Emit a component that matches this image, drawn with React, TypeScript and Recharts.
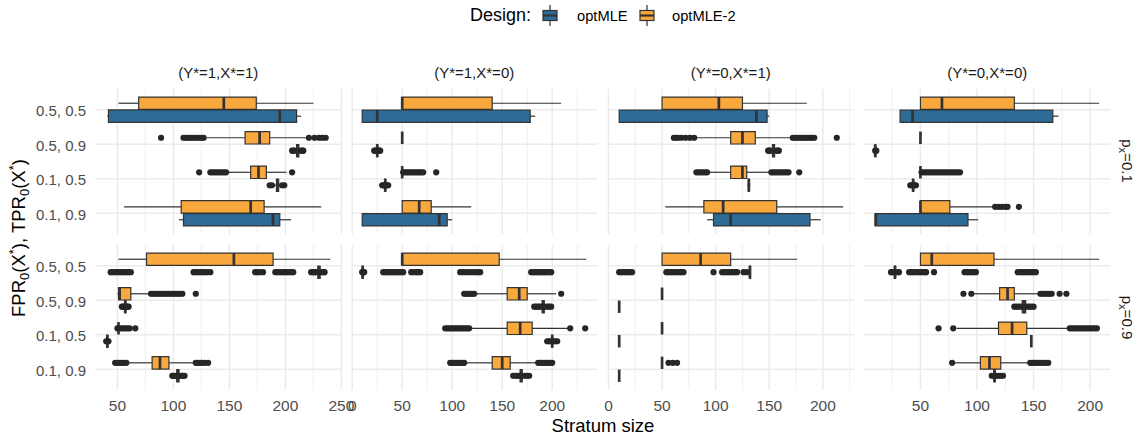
import React from "react";
import { ComposedChart, XAxis, YAxis, CartesianGrid, ReferenceArea, ReferenceLine, Scatter } from "recharts";

const categories = ["0.5, 0.5", "0.5, 0.9", "0.1, 0.5", "0.1, 0.9"];
const designs = ["optMLE", "optMLE-2"];
const columnLabels = ["(Y*=1,X*=1)", "(Y*=1,X*=0)", "(Y*=0,X*=1)", "(Y*=0,X*=0)"];
const rowLabels = ["0.1", "0.9"];
const columnTicks = [
  [50, 100, 150, 200, 250],
  [0, 50, 100, 150, 200],
  [0, 50, 100, 150, 200],
  [50, 100, 150, 200],
];

// box stats per FPR,TPR row: [lower whisker, q1, median, q3, upper whisker]
// p_x = 0.1
const px01_y1x1_mle = [[41, 42, 195, 210, 214], [209, 210, 211, 212, 213], [190, 192, 193, 194, 195], [105, 109, 189, 195, 205]];
const px01_y1x1_mle_out = [[], [206, 207, 208, 214, 215, 216], [186, 188, 197, 199], []];
const px01_y1x1_mle2 = [[51, 69, 145, 174, 225], [130, 164, 177, 186, 219], [149, 169, 176, 183, 201], [56, 107, 169, 181, 232]];
const px01_y1x1_mle2_out = [[], [89, 109, 111, 113, 115, 117, 119, 121, 123, 125, 127, 221, 226, 230, 233, 236], [123, 133, 135, 137, 139, 141, 143, 145, 147, 206], []];

const px01_y1x0_mle = [[10, 10, 25, 178, 183], [24, 24.5, 25, 25.5, 26], [32, 32.5, 33, 33.5, 34], [10, 10, 87, 95, 100]];
const px01_y1x0_mle_out = [[], [22, 23, 24, 26, 27, 28], [30, 31, 32, 34, 35, 36], []];
const px01_y1x0_mle2 = [[50, 50, 50, 140, 209], [50, 50, 50, 50, 50], [50, 50, 50, 50, 50], [50, 50, 67, 79, 119]];
const px01_y1x0_mle2_out = [[], [], [51, 53, 55, 57, 59, 61, 63, 65, 67, 69, 71, 84], []];

const px01_y0x1_mle = [[10, 10, 138, 148, 150], [152, 153, 154, 155, 156], [129.5, 130.5, 131, 131.5, 132.5], [92, 98, 114, 188, 198]];
const px01_y0x1_mle_out = [[], [149, 150, 151, 157, 158, 159], [], []];
const px01_y0x1_mle2 = [[50, 50, 103, 125, 185], [81, 114, 125, 137, 170], [93, 114, 125, 129, 150], [53, 89, 107, 157, 219]];
const px01_y0x1_mle2_out = [
  [],
  [61, 63, 65, 68, 72, 76, 80, 172, 174, 176, 178, 180, 182, 184, 186, 188, 190, 192, 213],
  [82, 84, 86, 88, 90, 92, 152, 154, 156, 158, 160, 162, 164, 166, 168, 178],
  [],
];

const px01_y0x0_mle = [[32, 32, 43, 167, 172], [10, 10, 10, 10.5, 11], [42, 43, 43.5, 44, 45], [10, 10, 10.5, 92, 101]];
const px01_y0x0_mle_out = [[], [10, 11], [41, 42, 45, 46], []];
const px01_y0x0_mle2 = [[50, 50, 69, 133, 208], [50, 50, 50, 50, 50], [50, 50, 50, 50, 50], [50, 50, 50, 76, 114]];
const px01_y0x0_mle2_out = [[], [], [51, 53, 55, 57, 59, 61, 63, 65, 67, 69, 71, 73, 75, 77, 79, 81, 83, 85], [116, 119, 122, 125, 127, 137]];

// p_x = 0.9
const px09_y1x1_mle = [[228, 229, 230, 231, 232], [56, 56.5, 57, 57.5, 58], [40, 40.5, 41, 41.5, 42], [102, 103, 104, 105, 106]];
const px09_y1x1_mle_out = [
  [44, 46, 48, 50, 52, 54, 56, 58, 60, 62, 118, 120, 122, 124, 126, 128, 130, 133, 173, 175, 177, 180, 191, 193, 195, 197, 199, 201, 203, 205, 207, 223, 225, 226, 228, 232, 234, 235],
  [54, 55, 56, 58, 59, 60],
  [40, 41, 42],
  [99, 100, 101, 103, 105, 107, 108, 109, 110],
];
const px09_y1x1_mle2 = [[51, 76, 154, 189, 240], [50, 51, 52, 62, 78], [51, 51, 51, 51, 51], [60, 81, 88, 96, 118]];
const px09_y1x1_mle2_out = [
  [],
  [80, 82, 84, 86, 88, 90, 92, 94, 96, 98, 100, 102, 104, 106, 108, 120],
  [50, 53, 55, 57, 59, 61, 66],
  [48, 50, 52, 54, 56, 58, 120, 122, 124, 126, 128, 131],
];

const px09_y1x0_mle = [[10, 10, 10.5, 11, 11.5], [189, 190, 191, 192, 193], [199, 199.5, 200, 200.5, 201], [167, 168, 169, 170, 171]];
const px09_y1x0_mle_out = [
  [10, 11, 12, 31, 33, 35, 37, 39, 41, 43, 45, 47, 49, 51, 59, 61, 64, 66, 68, 108, 111, 114, 117, 120, 123, 126, 128, 179, 181, 183, 185, 187, 189, 191, 193, 195, 197, 199],
  [182, 184, 186, 188, 190, 192, 195, 197, 199],
  [195, 197, 199, 201, 203, 205],
  [161, 163, 165, 167, 170, 173, 175, 177],
];
const px09_y1x0_mle2 = [[50, 50, 50, 147, 234], [124, 155, 167, 175, 204], [119, 155, 168, 180, 216], [114, 140, 150, 158, 184]];
const px09_y1x0_mle2_out = [
  [],
  [112, 114, 116, 118, 120, 122, 209],
  [93, 95, 97, 99, 101, 103, 105, 107, 109, 111, 113, 115, 117, 218, 233],
  [98, 100, 102, 104, 106, 108, 110, 112, 186, 188, 190, 192, 194, 196, 198, 200],
];

const px09_y0x1_mle = [[131, 131.5, 132, 132.5, 133], [10, 10, 10, 10, 10], [10, 10, 10, 10, 10], [10, 10, 10, 10, 10]];
const px09_y0x1_mle_out = [[10, 12, 14, 16, 18, 20, 22, 54, 56, 58, 60, 62, 64, 66, 68, 70, 98, 106, 108, 110, 112, 114, 116, 118, 120, 126, 129], [], [], []];
const px09_y0x1_mle2 = [[50, 50, 86, 114, 176], [50, 50, 50, 50, 50], [50, 50, 50, 50, 50], [50, 50, 50, 50, 50]];
const px09_y0x1_mle2_out = [[], [], [], [56, 60, 64]];

const px09_y0x0_mle = [[26, 27, 27.5, 28, 29], [139, 140, 141.5, 143, 144], [148, 148, 148, 148, 148], [114, 115, 115.5, 116, 117]];
const px09_y0x0_mle_out = [
  [24, 25, 27, 30, 31, 40, 42, 44, 46, 48, 50, 52, 54, 55, 62, 89, 91, 93, 95, 97, 99, 136, 138, 140, 142, 144, 146, 148, 150, 152],
  [133, 135, 137, 139, 144, 146, 148, 150],
  [],
  [113, 115, 117, 119, 121, 123],
];
const px09_y0x0_mle2 = [[50, 50, 60, 115, 208], [97, 120, 127, 133, 154], [82, 119, 131, 144, 180], [80, 103, 111, 121, 145]];
const px09_y0x0_mle2_out = [
  [],
  [88, 95, 156, 158, 160, 162, 164, 166, 173, 179],
  [66, 79, 182, 184, 186, 188, 190, 192, 194, 196, 198, 200, 202, 204, 206],
  [78, 147, 149, 151, 153, 155, 157, 159, 161, 163],
];

const panels = [
  { mle: px01_y1x1_mle, mleOut: px01_y1x1_mle_out, mle2: px01_y1x1_mle2, mle2Out: px01_y1x1_mle2_out },
  { mle: px01_y1x0_mle, mleOut: px01_y1x0_mle_out, mle2: px01_y1x0_mle2, mle2Out: px01_y1x0_mle2_out },
  { mle: px01_y0x1_mle, mleOut: px01_y0x1_mle_out, mle2: px01_y0x1_mle2, mle2Out: px01_y0x1_mle2_out },
  { mle: px01_y0x0_mle, mleOut: px01_y0x0_mle_out, mle2: px01_y0x0_mle2, mle2Out: px01_y0x0_mle2_out },
  { mle: px09_y1x1_mle, mleOut: px09_y1x1_mle_out, mle2: px09_y1x1_mle2, mle2Out: px09_y1x1_mle2_out },
  { mle: px09_y1x0_mle, mleOut: px09_y1x0_mle_out, mle2: px09_y1x0_mle2, mle2Out: px09_y1x0_mle2_out },
  { mle: px09_y0x1_mle, mleOut: px09_y0x1_mle_out, mle2: px09_y0x1_mle2, mle2Out: px09_y0x1_mle2_out },
  { mle: px09_y0x0_mle, mleOut: px09_y0x0_mle_out, mle2: px09_y0x0_mle2, mle2Out: px09_y0x0_mle2_out },
];

const BLUE = "#2E6B96";
const ORANGE = "#F9A83E";
const LINE = "#333333";
const GRID = "#EBEBEB";
const FONT = "'Liberation Sans', Arial, sans-serif";

const PANEL_X = [95, 351, 607.5, 864];
const PANEL_Y = [88.5, 245];
const PANEL_W = 246.4;
const PANEL_H = 145;
const DODGE = 0.1875;
const HALF = 0.18;

// free x scales: data range + 5% each side, like ggplot
function columnDomain(col: number): [number, number] {
  const vals: number[] = [];
  [panels[col], panels[col + 4]].forEach((p) => {
    [p.mle, p.mle2, p.mleOut, p.mle2Out].forEach((g) => g.forEach((r) => vals.push(...r)));
  });
  const lo = Math.min(...vals);
  const hi = Math.max(...vals);
  const pad = (hi - lo) * 0.05;
  return [lo - pad, hi + pad];
}

function Dot(props: any) {
  if (props.cx == null || props.cy == null) return null;
  return <circle cx={props.cx} cy={props.cy} r={3.1} fill="#262626" />;
}

function boxElements(stats: number[][], offset: number, fill: string, key: string) {
  const els: React.ReactNode[] = [];
  stats.forEach((s, i) => {
    const [wl, q1, med, q3, wh] = s;
    const yc = i + 1 + offset;
    els.push(
      <ReferenceLine key={`${key}wl${i}`} segment={[{ x: wl, y: yc }, { x: q1, y: yc }]} stroke={LINE} strokeWidth={1.2} />,
      <ReferenceLine key={`${key}wh${i}`} segment={[{ x: q3, y: yc }, { x: wh, y: yc }]} stroke={LINE} strokeWidth={1.2} />
    );
    if (q3 > q1) {
      els.push(
        <ReferenceArea key={`${key}b${i}`} x1={q1} x2={q3} y1={yc - HALF} y2={yc + HALF} fill={fill} fillOpacity={1} stroke={LINE} strokeWidth={1.2} strokeOpacity={1} />
      );
    }
    els.push(
      <ReferenceLine key={`${key}m${i}`} segment={[{ x: med, y: yc - HALF }, { x: med, y: yc + HALF }]} stroke={LINE} strokeWidth={2.7} />
    );
  });
  return els;
}

function Panel({ row, col }: { row: number; col: number }) {
  const p = panels[row * 4 + col];
  const showY = col === 0;
  const showX = row === 1;
  const yAxisW = showY ? 95 : 0;
  const xAxisH = showX ? 30 : 0;
  const [lo, hi] = columnDomain(col);
  const ticks = columnTicks[col];
  const minor = [ticks[0] - 25, ...ticks.map((t) => t + 25)].filter((v) => v > lo && v < hi);
  const outliers: { x: number; y: number }[] = [];
  p.mle2Out.forEach((r, i) => r.forEach((v) => outliers.push({ x: v, y: i + 1 - DODGE })));
  p.mleOut.forEach((r, i) => r.forEach((v) => outliers.push({ x: v, y: i + 1 + DODGE })));

  return (
    <div style={{ position: "absolute", left: PANEL_X[col] - yAxisW, top: PANEL_Y[row] }}>
      <ComposedChart width={PANEL_W + yAxisW} height={PANEL_H + xAxisH} margin={{ top: 0, right: 0, bottom: 0, left: 0 }}>
        <CartesianGrid stroke={GRID} strokeWidth={0.8} horizontal={false} verticalValues={minor} />
        <CartesianGrid stroke={GRID} strokeWidth={1.5} verticalValues={ticks} horizontalValues={[1, 2, 3, 4]} />
        <XAxis
          type="number"
          dataKey="x"
          domain={[lo, hi]}
          ticks={ticks}
          interval={0}
          allowDataOverflow
          hide={!showX}
          height={30}
          axisLine={false}
          tickLine={false}
          tickSize={4}
          tickMargin={6}
          tick={{ fontSize: 15.5, fill: "#4D4D4D", fontFamily: FONT }}
        />
        <YAxis
          type="number"
          dataKey="y"
          domain={[0.4, 4.6]}
          reversed
          ticks={[1, 2, 3, 4]}
          interval={0}
          allowDataOverflow
          hide={!showY}
          width={95}
          axisLine={false}
          tickLine={false}
          tickSize={4}
          tickMargin={5}
          tickFormatter={(v: number) => categories[v - 1]}
          tick={{ fontSize: 15, fill: "#4D4D4D", fontFamily: FONT, dy: 1 }}
        />
        {boxElements(p.mle2, -DODGE, ORANGE, "o")}
        {boxElements(p.mle, DODGE, BLUE, "b")}
        <Scatter data={outliers} shape={<Dot />} isAnimationActive={false} />
      </ComposedChart>
    </div>
  );
}

function LegendKey({ x, fill }: { x: number; fill: string }) {
  return (
    <g>
      <line x1={x + 7} x2={x + 7} y1={5} y2={26} stroke={LINE} strokeWidth={1.2} />
      <rect x={x} y={10.5} width={14} height={10} fill={fill} stroke={LINE} strokeWidth={1.2} />
      <line x1={x} x2={x + 14} y1={15.5} y2={15.5} stroke={LINE} strokeWidth={2.2} />
    </g>
  );
}

export default function App() {
  const sub = { fontSize: 13 };
  return (
    <div style={{ position: "absolute", left: 0, top: 0, width: 1147, height: 439, background: "#fff", fontFamily: FONT }}>
      <style>{".recharts-surface{overflow:visible}"}</style>
      <svg width={1147} height={439} style={{ position: "absolute", left: 0, top: 0 }}>
        <text x={470} y={21} fontSize={18} fill="#000" fontFamily={FONT}>Design:</text>
        <LegendKey x={543} fill={BLUE} />
        <text x={577} y={20.5} fontSize={14.7} fill="#000" fontFamily={FONT}>{designs[0]}</text>
        <LegendKey x={640} fill={ORANGE} />
        <text x={672} y={20.5} fontSize={14.7} fill="#000" fontFamily={FONT}>{designs[1]}</text>

        {columnLabels.map((t, c) => (
          <text key={t} x={PANEL_X[c] + PANEL_W / 2} y={78} textAnchor="middle" fontSize={15} fill="#1A1A1A" fontFamily={FONT}>
            {t}
          </text>
        ))}
        {rowLabels.map((t, r) => (
          <text
            key={t}
            transform={`translate(1122,${PANEL_Y[r] + PANEL_H / 2}) rotate(90)`}
            textAnchor="middle"
            fontSize={15}
            fill="#1A1A1A"
            fontFamily={FONT}
          >
            p<tspan fontSize={11} dy={3}>x</tspan>
            <tspan dy={-3}>={t}</tspan>
          </text>
        ))}
        <text x={603} y={432} textAnchor="middle" fontSize={18.5} fill="#000" fontFamily={FONT}>
          Stratum size
        </text>
        <text transform="translate(25,238) rotate(-90)" textAnchor="middle" fontSize={18.5} fill="#000" fontFamily={FONT}>
          FPR<tspan {...sub} dy={4}>0</tspan>
          <tspan dy={-4}>(X</tspan>
          <tspan {...sub} dy={-7}>*</tspan>
          <tspan dy={7}>), TPR</tspan>
          <tspan {...sub} dy={4}>0</tspan>
          <tspan dy={-4}>(X</tspan>
          <tspan {...sub} dy={-7}>*</tspan>
          <tspan dy={7}>)</tspan>
        </text>
      </svg>
      {[0, 1].map((r) => [0, 1, 2, 3].map((c) => <Panel key={`${r}-${c}`} row={r} col={c} />))}
    </div>
  );
}
